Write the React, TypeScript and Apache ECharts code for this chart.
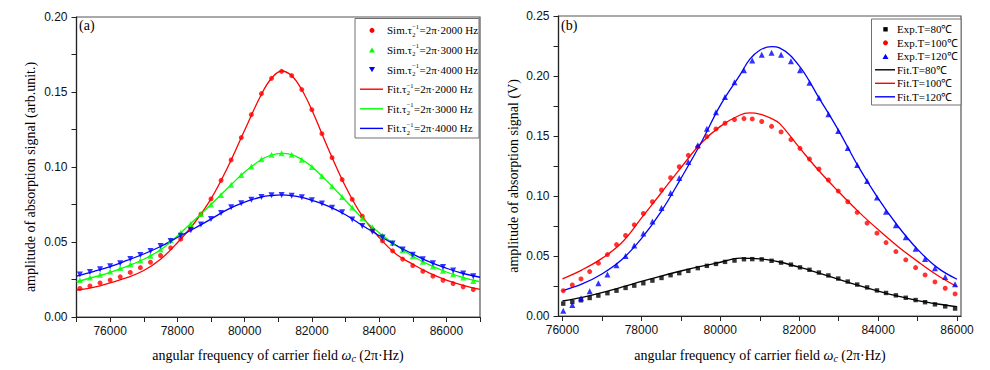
import React, { useEffect, useRef } from 'react';
import * as echarts from 'echarts';

// ---------- Panel (a): simulation ----------
const simFreqA = [75100, 75400, 75700, 76000, 76300, 76600, 76900, 77200, 77500, 77800, 78100, 78400, 78700, 79000, 79300, 79600, 79900, 80200, 80500, 80800, 81100, 81400, 81700, 82000, 82300, 82600, 82900, 83200, 83500, 83800, 84100, 84400, 84700, 85000, 85300, 85600, 85900, 86200, 86500, 86800];
const simRedA = [0.0190, 0.0207, 0.0227, 0.0246, 0.0268, 0.0297, 0.0329, 0.0365, 0.0410, 0.0461, 0.0519, 0.0594, 0.0685, 0.0787, 0.0911, 0.1047, 0.1196, 0.1349, 0.1489, 0.1591, 0.1638, 0.1609, 0.1516, 0.1382, 0.1222, 0.1062, 0.0916, 0.0784, 0.0672, 0.0583, 0.0507, 0.0441, 0.0386, 0.0343, 0.0305, 0.0272, 0.0245, 0.0223, 0.0201, 0.0183];
const simGreenA = [0.0245, 0.0263, 0.0282, 0.0303, 0.0326, 0.0350, 0.0377, 0.0409, 0.0450, 0.0512, 0.0562, 0.0620, 0.0687, 0.0750, 0.0813, 0.0882, 0.0947, 0.1004, 0.1051, 0.1082, 0.1091, 0.1082, 0.1049, 0.1000, 0.0940, 0.0871, 0.0800, 0.0730, 0.0659, 0.0598, 0.0544, 0.0494, 0.0445, 0.0405, 0.0368, 0.0336, 0.0308, 0.0285, 0.0263, 0.0240];
const simBlueA = [0.0283, 0.0300, 0.0319, 0.0338, 0.0359, 0.0386, 0.0413, 0.0440, 0.0473, 0.0507, 0.0541, 0.0578, 0.0616, 0.0653, 0.0693, 0.0731, 0.0758, 0.0782, 0.0800, 0.0811, 0.0813, 0.0809, 0.0798, 0.0778, 0.0756, 0.0729, 0.0698, 0.0650, 0.0607, 0.0568, 0.0530, 0.0490, 0.0450, 0.0415, 0.0385, 0.0358, 0.0333, 0.0310, 0.0290, 0.0272];

const fitFreqA = [75000, 75500, 76000, 76500, 77000, 77500, 78000, 78500, 79000, 79500, 80000, 80500, 80800, 81100, 81400, 81700, 82000, 82500, 83000, 83500, 84000, 84500, 85000, 85500, 86000, 86500, 87000];
const fitRedA = [0.0180, 0.0198, 0.0228, 0.0262, 0.0310, 0.0385, 0.0495, 0.0625, 0.0787, 0.1000, 0.1245, 0.1485, 0.1592, 0.1640, 0.1608, 0.1515, 0.1380, 0.1115, 0.0870, 0.0672, 0.0530, 0.0420, 0.0352, 0.0292, 0.0246, 0.0211, 0.0184];
const fitGreenA = [0.0235, 0.0265, 0.0298, 0.0338, 0.0385, 0.0448, 0.0540, 0.0645, 0.0750, 0.0860, 0.0966, 0.1050, 0.1080, 0.1091, 0.1082, 0.1050, 0.1002, 0.0894, 0.0777, 0.0659, 0.0562, 0.0478, 0.0405, 0.0347, 0.0300, 0.0263, 0.0235];
const fitBlueA = [0.0272, 0.0303, 0.0336, 0.0377, 0.0420, 0.0470, 0.0530, 0.0590, 0.0653, 0.0718, 0.0766, 0.0800, 0.0810, 0.0814, 0.0809, 0.0797, 0.0778, 0.0738, 0.0682, 0.0610, 0.0543, 0.0478, 0.0420, 0.0367, 0.0325, 0.0290, 0.0265];

const kindsA = ['Sim', 'Sim', 'Sim', 'Fit', 'Fit', 'Fit'];
const ratesA = ['2000', '3000', '4000', '2000', '3000', '4000'];

// ---------- Panel (b): experiment ----------
const expFreqB = [76020, 76250, 76470, 76690, 76910, 77140, 77370, 77600, 77820, 78050, 78280, 78510, 78740, 78960, 79190, 79430, 79660, 79890, 80120, 80360, 80600, 80810, 81050, 81300, 81540, 81790, 82020, 82260, 82500, 82740, 82990, 83230, 83470, 83720, 83970, 84200, 84450, 84700, 84950, 85190, 85440, 85700, 85950];
const exp80B = [0.0103, 0.0117, 0.0131, 0.0150, 0.0170, 0.0190, 0.0211, 0.0234, 0.0253, 0.0273, 0.0295, 0.0317, 0.0340, 0.0357, 0.0376, 0.0399, 0.0418, 0.0434, 0.0451, 0.0462, 0.0473, 0.0474, 0.0472, 0.0460, 0.0445, 0.0428, 0.0405, 0.0385, 0.0362, 0.0338, 0.0312, 0.0287, 0.0262, 0.0238, 0.0213, 0.0192, 0.0172, 0.0152, 0.0133, 0.0115, 0.0097, 0.0080, 0.0062];
const exp100B = [0.0211, 0.0259, 0.0309, 0.0370, 0.0440, 0.0512, 0.0595, 0.0671, 0.0760, 0.0854, 0.0952, 0.1050, 0.1152, 0.1244, 0.1339, 0.1410, 0.1495, 0.1559, 0.1606, 0.1637, 0.1645, 0.1642, 0.1621, 0.1580, 0.1534, 0.1470, 0.1397, 0.1308, 0.1225, 0.1133, 0.1041, 0.0952, 0.0863, 0.0774, 0.0690, 0.0612, 0.0537, 0.0468, 0.0403, 0.0342, 0.0284, 0.0231, 0.0184];
const exp120B = [0.0044, 0.0092, 0.0148, 0.0206, 0.0273, 0.0345, 0.0423, 0.0501, 0.0587, 0.0687, 0.0787, 0.0899, 0.1025, 0.1150, 0.1283, 0.1422, 0.1561, 0.1698, 0.1826, 0.1948, 0.2048, 0.2129, 0.2177, 0.2193, 0.2177, 0.2123, 0.2048, 0.1943, 0.1818, 0.1681, 0.1542, 0.1400, 0.1258, 0.1125, 0.0988, 0.0868, 0.0757, 0.0657, 0.0561, 0.0476, 0.0398, 0.0326, 0.0265];

const fitFreqB = [76000, 76500, 77000, 77500, 78000, 78500, 79000, 79500, 80000, 80500, 80750, 81000, 81300, 81500, 82000, 82500, 83000, 83500, 84000, 84500, 85000, 85500, 86000];
const fit80B = [0.0125, 0.0155, 0.0195, 0.0240, 0.0288, 0.0333, 0.0375, 0.0413, 0.0448, 0.0482, 0.0481, 0.0476, 0.0463, 0.0450, 0.0408, 0.0358, 0.0306, 0.0255, 0.0208, 0.0165, 0.0128, 0.0100, 0.0078];
const fit100B = [0.0310, 0.0385, 0.0480, 0.0610, 0.0815, 0.1025, 0.1235, 0.1435, 0.1580, 0.1675, 0.1692, 0.1682, 0.1645, 0.1605, 0.1405, 0.1210, 0.1035, 0.0870, 0.0720, 0.0580, 0.0455, 0.0340, 0.0245];
const fit120B = [0.0210, 0.0267, 0.0350, 0.0468, 0.0645, 0.0870, 0.1145, 0.1435, 0.1755, 0.2010, 0.2140, 0.2215, 0.2245, 0.2235, 0.2085, 0.1818, 0.1545, 0.1245, 0.0980, 0.0750, 0.0555, 0.0403, 0.0306];

const namesB = ['Exp.T=80℃', 'Exp.T=100℃', 'Exp.T=120℃', 'Fit.T=80℃', 'Fit.T=100℃', 'Fit.T=120℃'];

const xTicksB = [76000, 77000, 78000, 79000, 80000, 81000, 82000, 83000, 84000, 85000, 86000];
const xLabelsB = [76000, 78000, 80000, 82000, 84000, 86000];

const RED = '#ff0000';
const GREEN = '#00ff00';
const BLUE = '#0000ff';
const BLACK = '#000000';
const SERIF = '"Liberation Serif", "Times New Roman", serif';
const SANS = '"Liberation Sans", Arial, sans-serif';

const zip = (xs: number[], ys: number[]) => xs.map((x, i) => [x, ys[i]]);
const yFmt = (v: number) => (Math.round(v * 1000) % 50 === 0 ? v.toFixed(2) : '');

function baseAxis(gridIndex: number) {
  return {
    gridIndex,
    axisLine: { show: true, lineStyle: { color: '#222', width: 1.2 } },
    axisTick: { show: true, inside: false, length: 5, lineStyle: { color: '#222', width: 1 } },
    splitLine: { show: false },
    axisLabel: { color: '#111', fontFamily: SANS, fontSize: 12 },
  };
}

let measureCtx: CanvasRenderingContext2D | null = null;
function textWidth(text: string, size: number) {
  if (!measureCtx) measureCtx = document.createElement('canvas').getContext('2d');
  if (!measureCtx) return text.length * size * 0.5;
  measureCtx.font = `${size}px "Liberation Serif"`;
  return measureCtx.measureText(text).width;
}

type Glyph = 'circle' | 'up' | 'down' | 'square' | 'line';
function glyphEls(glyph: Glyph, color: string, symX: number, cy: number, lineX0: number, lineX1: number) {
  if (glyph === 'circle') return [{ type: 'circle', shape: { cx: symX, cy, r: 2.5 }, style: { fill: color }, z: 11 }];
  if (glyph === 'square') return [{ type: 'rect', shape: { x: symX - 2.2, y: cy - 2.2, width: 4.4, height: 4.4 }, style: { fill: color }, z: 11 }];
  if (glyph === 'up') return [{ type: 'polygon', shape: { points: [[symX - 3, cy + 2.6], [symX + 3, cy + 2.6], [symX, cy - 2.6]] }, style: { fill: color }, z: 11 }];
  if (glyph === 'down') return [{ type: 'polygon', shape: { points: [[symX - 3, cy - 2.6], [symX + 3, cy - 2.6], [symX, cy + 2.6]] }, style: { fill: color }, z: 11 }];
  return [{ type: 'line', shape: { x1: lineX0, y1: cy, x2: lineX1, y2: cy }, style: { stroke: color, lineWidth: 1.4 }, z: 11 }];
}
function boxEl(x: number, y: number, w: number, h: number) {
  return { type: 'rect', shape: { x, y, width: w, height: h }, style: { fill: '#fff', stroke: '#707070', lineWidth: 1 }, z: 10 };
}
function txt(text: string, x: number, y: number, size: number) {
  return { type: 'text', x, y, z: 11, style: { text, fontFamily: SERIF, fontSize: size, fill: '#000', align: 'left', verticalAlign: 'middle' } };
}

export default function App() {
  const ref = useRef<HTMLDivElement>(null);
  useEffect(() => {
    document.body.style.margin = '0';
    if (!ref.current) return;
    const chart = echarts.init(ref.current, undefined, { renderer: 'svg' });

    // Legend (a): τ with stacked sub/superscript
    const glyphsA: Glyph[] = ['circle', 'up', 'down', 'line', 'line', 'line'];
    const colorsA = [RED, GREEN, BLUE, RED, GREEN, BLUE];
    const legendA: any[] = [boxEl(355, 18.5, 124, 119.5)];
    const fsA = 11;
    for (let i = 0; i < 6; i++) {
      const cy = 30.4 + 19.6 * i;
      legendA.push(...glyphEls(glyphsA[i], colorsA[i], 372, cy, 360, 383));
      const head = `${kindsA[i]}.τ`;
      const x0 = 387;
      const w1 = textWidth(head, fsA);
      const wSup = textWidth('−1', 6.5);
      legendA.push(txt(head, x0, cy, fsA));
      legendA.push(txt('−1', x0 + w1 + 0.3, cy - 4.2, 6.5));
      legendA.push(txt('2', x0 + w1 + 0.3, cy + 3.6, 6.5));
      legendA.push(txt(`=2π·${ratesA[i]} Hz`, x0 + w1 + wSup + 0.8, cy, fsA));
    }

    // Legend (b)
    const glyphsB: Glyph[] = ['square', 'circle', 'up', 'line', 'line', 'line'];
    const colorsB = [BLACK, RED, BLUE, BLACK, RED, BLUE];
    const legendB: any[] = [boxEl(871.5, 19, 89.5, 86)];
    for (let i = 0; i < 6; i++) {
      const cy = 29.3 + 13.5 * i;
      legendB.push(...glyphEls(glyphsB[i], colorsB[i], 885.5, cy, 875, 895));
      legendB.push(txt(namesB[i], 897, cy, 11));
    }

    const xRich = {
      w: { fontFamily: SERIF, fontSize: 14, fontStyle: 'italic' },
      c: { fontFamily: SERIF, fontSize: 10, fontStyle: 'italic', verticalAlign: 'bottom', lineHeight: 17 },
    };

    const option: any = {
      animation: false,
      backgroundColor: '#fff',
      grid: [
        { left: 76.5, top: 17, width: 403.5, height: 300, show: true, borderColor: '#555', borderWidth: 1.2, backgroundColor: 'transparent' },
        { left: 558.5, top: 16, width: 402.5, height: 300, show: true, borderColor: '#555', borderWidth: 1.2, backgroundColor: 'transparent' },
      ],
      xAxis: [
        {
          ...baseAxis(0), type: 'value', min: 75000, max: 87000, interval: 1000,
          axisLabel: { ...baseAxis(0).axisLabel, margin: 8, formatter: (v: number) => (v % 2000 === 0 ? String(v) : '') },
        },
        {
          ...baseAxis(1), type: 'value', min: 75900, max: 86100,
          axisTick: { ...baseAxis(1).axisTick, customValues: xTicksB },
          axisLabel: { ...baseAxis(1).axisLabel, margin: 8, customValues: xLabelsB, formatter: (v: number) => String(v) },
        },
      ],
      yAxis: [
        { ...baseAxis(0), type: 'value', min: 0, max: 0.2, interval: 0.025, axisLabel: { ...baseAxis(0).axisLabel, margin: 9, formatter: yFmt } },
        { ...baseAxis(1), type: 'value', min: 0, max: 0.25, interval: 0.025, axisLabel: { ...baseAxis(1).axisLabel, margin: 9, formatter: yFmt } },
      ],
      series: [
        { name: 'Fit 2000 Hz', type: 'line', xAxisIndex: 0, yAxisIndex: 0, data: zip(fitFreqA, fitRedA), smooth: 0.4, symbol: 'none', lineStyle: { color: RED, width: 1.3 }, itemStyle: { color: RED }, z: 2 },
        { name: 'Fit 3000 Hz', type: 'line', xAxisIndex: 0, yAxisIndex: 0, data: zip(fitFreqA, fitGreenA), smooth: 0.4, symbol: 'none', lineStyle: { color: GREEN, width: 1.3 }, itemStyle: { color: GREEN }, z: 2 },
        { name: 'Fit 4000 Hz', type: 'line', xAxisIndex: 0, yAxisIndex: 0, data: zip(fitFreqA, fitBlueA), smooth: 0.4, symbol: 'none', lineStyle: { color: BLUE, width: 1.3 }, itemStyle: { color: BLUE }, z: 2 },
        { name: 'Sim 2000 Hz', type: 'scatter', xAxisIndex: 0, yAxisIndex: 0, data: zip(simFreqA, simRedA), symbol: 'circle', symbolSize: 5, itemStyle: { color: RED }, z: 3 },
        { name: 'Sim 3000 Hz', type: 'scatter', xAxisIndex: 0, yAxisIndex: 0, data: zip(simFreqA, simGreenA), symbol: 'triangle', symbolSize: 6, itemStyle: { color: GREEN }, z: 3 },
        { name: 'Sim 4000 Hz', type: 'scatter', xAxisIndex: 0, yAxisIndex: 0, data: zip(simFreqA, simBlueA), symbol: 'triangle', symbolRotate: 180, symbolSize: 6, itemStyle: { color: BLUE }, z: 3 },

        { name: namesB[3], type: 'line', xAxisIndex: 1, yAxisIndex: 1, data: zip(fitFreqB, fit80B), smooth: 0.4, symbol: 'none', lineStyle: { color: BLACK, width: 1.3 }, itemStyle: { color: BLACK }, z: 2 },
        { name: namesB[4], type: 'line', xAxisIndex: 1, yAxisIndex: 1, data: zip(fitFreqB, fit100B), smooth: 0.4, symbol: 'none', lineStyle: { color: RED, width: 1.3 }, itemStyle: { color: RED }, z: 2 },
        { name: namesB[5], type: 'line', xAxisIndex: 1, yAxisIndex: 1, data: zip(fitFreqB, fit120B), smooth: 0.4, symbol: 'none', lineStyle: { color: BLUE, width: 1.3 }, itemStyle: { color: BLUE }, z: 2 },
        { name: namesB[0], type: 'scatter', xAxisIndex: 1, yAxisIndex: 1, data: zip(expFreqB, exp80B), symbol: 'rect', symbolSize: 4.4, itemStyle: { color: BLACK }, z: 3 },
        { name: namesB[1], type: 'scatter', xAxisIndex: 1, yAxisIndex: 1, data: zip(expFreqB, exp100B), symbol: 'circle', symbolSize: 5, itemStyle: { color: RED }, z: 3 },
        { name: namesB[2], type: 'scatter', xAxisIndex: 1, yAxisIndex: 1, data: zip(expFreqB, exp120B), symbol: 'triangle', symbolSize: 6, itemStyle: { color: BLUE }, z: 3 },
      ],
      graphic: [
        { type: 'text', left: 79, top: 18, style: { text: '(a)', font: `14px ${SERIF}`, fill: '#000' } },
        { type: 'text', left: 561, top: 18, style: { text: '(b)', font: `14px ${SERIF}`, fill: '#000' } },
        {
          type: 'text', x: 30, y: 177, rotation: Math.PI / 2,
          style: { text: 'amplitude of absorption signal (arb.unit.)', font: `14px ${SERIF}`, fill: '#000', align: 'center', verticalAlign: 'middle' },
        },
        {
          type: 'text', x: 513, y: 176, rotation: Math.PI / 2,
          style: { text: 'amplitude of absorption signal (V)', font: `14px ${SERIF}`, fill: '#000', align: 'center', verticalAlign: 'middle' },
        },
        {
          type: 'text', x: 278, y: 355,
          style: { text: 'angular frequency of carrier field {w|ω}{c|c} (2π·Hz)', font: `14px ${SERIF}`, fill: '#000', align: 'center', verticalAlign: 'middle', rich: xRich },
        },
        {
          type: 'text', x: 760, y: 355,
          style: { text: 'angular frequency of carrier field {w|ω}{c|c} (2π·Hz)', font: `14px ${SERIF}`, fill: '#000', align: 'center', verticalAlign: 'middle', rich: xRich },
        },
        ...legendA,
        ...legendB,
      ],
    };
    chart.setOption(option);
    return () => chart.dispose();
  }, []);
  return <div ref={ref} style={{ width: 990, height: 370 }} />;
}
